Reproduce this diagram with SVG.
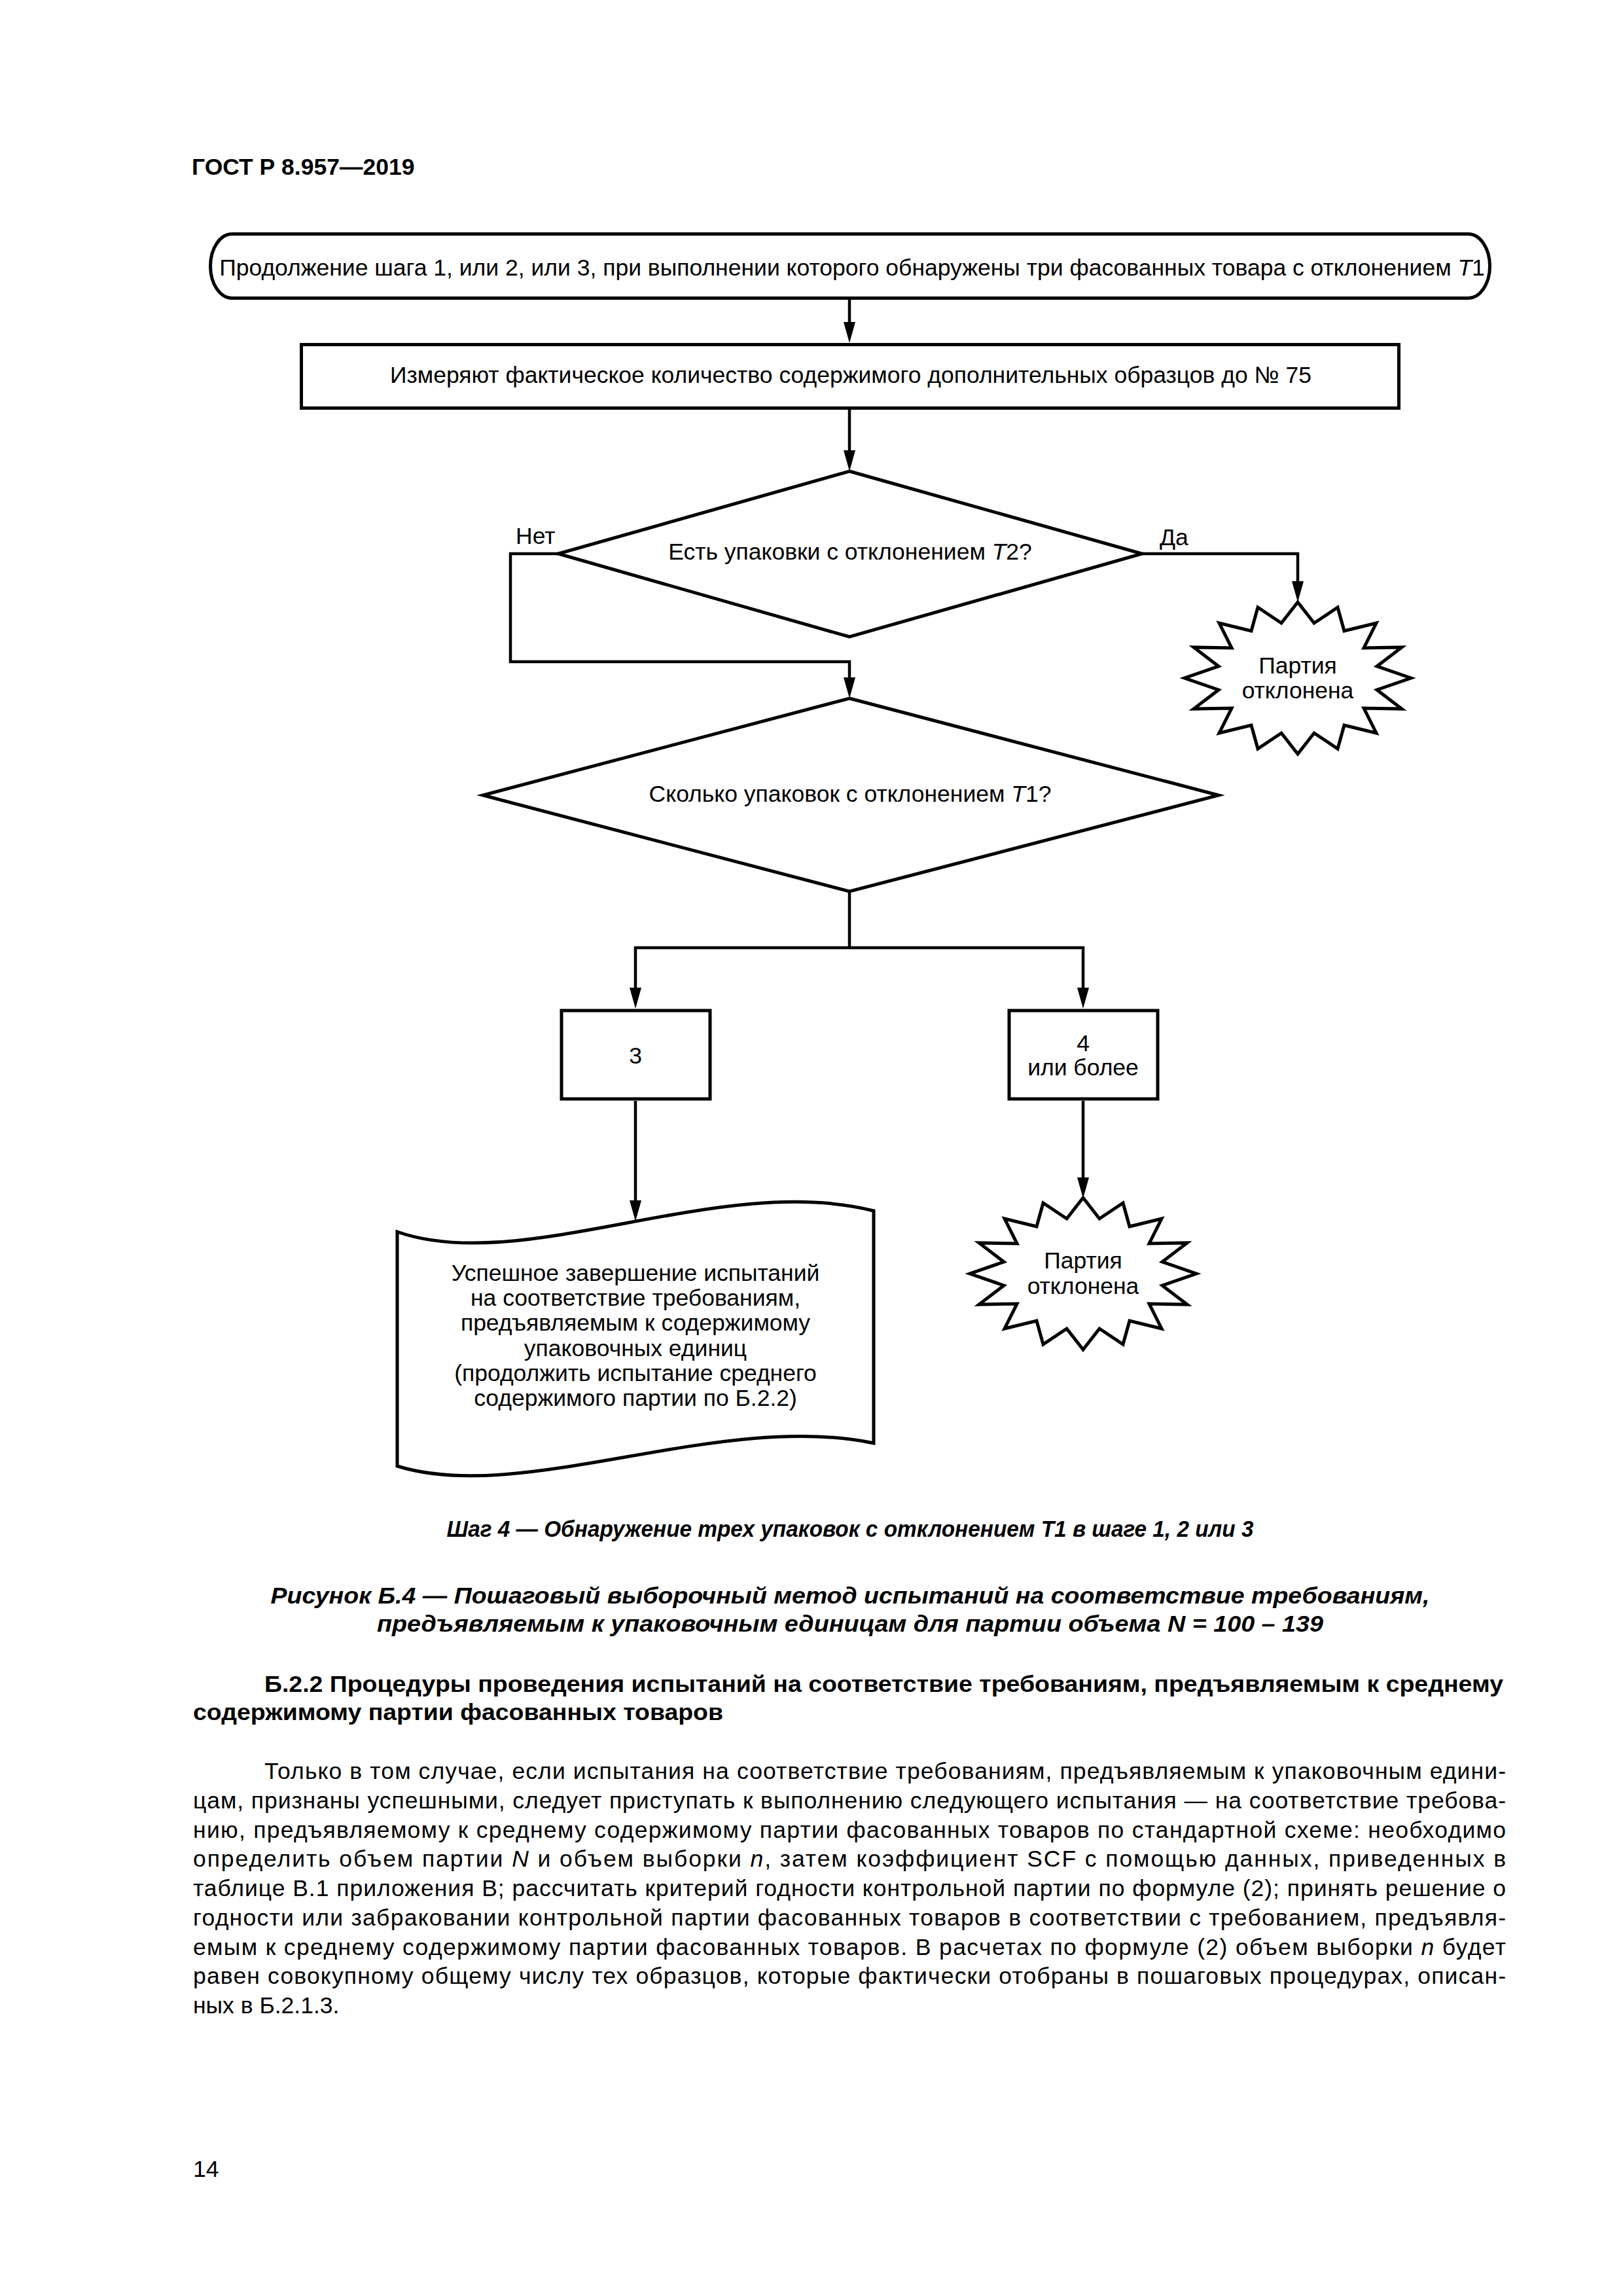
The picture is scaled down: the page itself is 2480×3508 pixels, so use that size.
<svg xmlns="http://www.w3.org/2000/svg" width="2480" height="3508" viewBox="0 0 2480 3508">
<style>
.t{font-family:"Liberation Sans",Arial,sans-serif;font-size:35.5px;fill:#000}
.c{text-anchor:middle}
.b{font-weight:bold}
.i{font-style:italic}
.shape{fill:#fff;stroke:#000;stroke-width:5;stroke-linejoin:miter}
.conn{fill:none;stroke:#000;stroke-width:4.5}
</style>
<defs>
<marker id="arr" markerUnits="userSpaceOnUse" markerWidth="34" markerHeight="20" refX="22" refY="9" orient="auto">
<path d="M0,0 L32,9 L0,18 z" fill="#000"/>
</marker>
<polygon id="star" points="0,-116 25,-84 61,-108 71,-72 120,-84 101,-46 159,-47 121,-18 173,0 121,18 159,47 101,46 120,84 71,72 61,108 25,84 0,116 -25,84 -61,108 -71,72 -120,84 -101,46 -159,47 -121,18 -173,0 -121,-18 -159,-47 -101,-46 -120,-84 -71,-72 -61,-108 -25,-84"/>
</defs>
<rect width="2480" height="3508" fill="#fff"/>

<text class="t b" x="293" y="267" font-size="41">ГОСТ Р 8.957—2019</text>

<g id="connectors">
<path class="conn" d="M1298,458 V514" marker-end="url(#arr)"/>
<path class="conn" d="M1298,626 V710" marker-end="url(#arr)"/>
<path class="conn" d="M1745,846 H1983 V910" marker-end="url(#arr)"/>
<path class="conn" d="M853,846 H780 V1011 H1298 V1057" marker-end="url(#arr)"/>
<path class="conn" d="M1298,1362 V1448 H971 V1531" marker-end="url(#arr)"/>
<path class="conn" d="M1298,1448 H1655 V1531" marker-end="url(#arr)"/>
<path class="conn" d="M971,1682 V1856" marker-end="url(#arr)"/>
<path class="conn" d="M1655,1682 V1821" marker-end="url(#arr)"/>
<text class="t" x="788" y="831">Нет</text>
<text class="t" x="1772" y="833">Да</text>
</g>

<g id="start">
<rect class="shape" x="321.5" y="357.5" width="1955" height="98" rx="33" ry="49"/>
<text class="t c" x="1302" y="421">Продолжение шага 1, или 2, или 3, при выполнении которого обнаружены три фасованных товара с отклонением <tspan class="i">T</tspan>1</text>
</g>

<g id="measure">
<rect class="shape" x="460.5" y="526.5" width="1677" height="97"/>
<text class="t c" x="1300" y="585">Измеряют фактическое количество содержимого дополнительных образцов до № 75</text>
</g>

<g id="decision-t2">
<polygon class="shape" points="1298,720 1745,846 1298,973 853,846"/>
<text class="t c" x="1299" y="855">Есть упаковки с отклонением <tspan class="i">T</tspan>2?</text>
</g>

<g id="rejected-1">
<use href="#star" x="1983" y="1036" class="shape"/>
<text class="t c" x="1983" y="1029">Партия</text>
<text class="t c" x="1983" y="1067">отклонена</text>
</g>

<g id="decision-t1">
<polygon class="shape" points="1298,1067 1862,1215 1298,1362 738,1215"/>
<text class="t c" x="1299" y="1225">Сколько упаковок с отклонением <tspan class="i">T</tspan>1?</text>
</g>

<g id="box-3">
<rect class="shape" x="858" y="1544" width="227" height="135"/>
<text class="t c" x="971" y="1625">3</text>
</g>

<g id="box-4">
<rect class="shape" x="1542" y="1544" width="227" height="135"/>
<text class="t c" x="1655" y="1606">4</text>
<text class="t c" x="1655" y="1643">или более</text>
</g>

<g id="success">
<path class="shape" d="M607,1882 C800,1950 1100,1790 1335,1850 L1335,2205 C1100,2155 800,2300 607,2240 Z"/>
<text class="t c" x="971" y="1957">Успешное завершение испытаний</text>
<text class="t c" x="971" y="1995">на соответствие требованиям,</text>
<text class="t c" x="971" y="2033">предъявляемым к содержимому</text>
<text class="t c" x="971" y="2072">упаковочных единиц</text>
<text class="t c" x="971" y="2110">(продолжить испытание среднего</text>
<text class="t c" x="971" y="2148">содержимого партии по Б.2.2)</text>
</g>

<g id="rejected-2">
<use href="#star" x="1655" y="1946" class="shape"/>
<text class="t c" x="1655" y="1938">Партия</text>
<text class="t c" x="1655" y="1977">отклонена</text>
</g>

<g id="captions">
<text class="t c b i" x="1299" y="2348" font-size="30" textLength="1233" lengthAdjust="spacingAndGlyphs">Шаг 4 — Обнаружение трех упаковок с отклонением T1 в шаге 1, 2 или 3</text>
<text class="t c b i" x="1299" y="2450" font-size="36" textLength="1771" lengthAdjust="spacingAndGlyphs">Рисунок Б.4 — Пошаговый выборочный метод испытаний на соответствие требованиям,</text>
<text class="t c b i" x="1299" y="2493" font-size="36" textLength="1446" lengthAdjust="spacingAndGlyphs">предъявляемым к упаковочным единицам для партии объема  N = 100 – 139</text>
<text class="t b" x="404" y="2585" font-size="36" textLength="1893" lengthAdjust="spacingAndGlyphs">Б.2.2 Процедуры проведения испытаний на соответствие требованиям, предъявляемым к среднему</text>
<text class="t b" x="295" y="2628" font-size="36" textLength="810" lengthAdjust="spacingAndGlyphs">содержимому партии фасованных товаров</text>
</g>

<g id="body">
<text class="t" font-size="37" x="404" y="2718" textLength="1897" lengthAdjust="spacing">Только в том случае, если испытания на соответствие требованиям, предъявляемым к упаковочным едини-</text>
<text class="t" font-size="37" x="295" y="2763" textLength="2006" lengthAdjust="spacing">цам, признаны успешными, следует приступать к выполнению следующего испытания — на соответствие требова-</text>
<text class="t" font-size="37" x="295" y="2808" textLength="2006" lengthAdjust="spacing">нию, предъявляемому к среднему содержимому партии фасованных товаров по стандартной схеме: необходимо</text>
<text class="t" font-size="37" x="295" y="2852" textLength="2006" lengthAdjust="spacing">определить объем партии <tspan class="i">N</tspan> и объем выборки <tspan class="i">n</tspan>, затем коэффициент SCF с помощью данных, приведенных в</text>
<text class="t" font-size="37" x="295" y="2897" textLength="2006" lengthAdjust="spacing">таблице В.1 приложения В; рассчитать критерий годности контрольной партии по формуле (2); принять решение о</text>
<text class="t" font-size="37" x="295" y="2942" textLength="2006" lengthAdjust="spacing">годности или забраковании контрольной партии фасованных товаров в соответствии с требованием, предъявля-</text>
<text class="t" font-size="37" x="295" y="2987" textLength="2006" lengthAdjust="spacing">емым к среднему содержимому партии фасованных товаров. В расчетах по формуле (2) объем выборки <tspan class="i">n</tspan> будет</text>
<text class="t" font-size="37" x="295" y="3031" textLength="2006" lengthAdjust="spacing">равен совокупному общему числу тех образцов, которые фактически отобраны в пошаговых процедурах, описан-</text>
<text class="t" font-size="37" x="295" y="3076">ных в Б.2.1.3.</text>
<text class="t" font-size="36" x="295" y="3326">14</text>
</g>
</svg>
